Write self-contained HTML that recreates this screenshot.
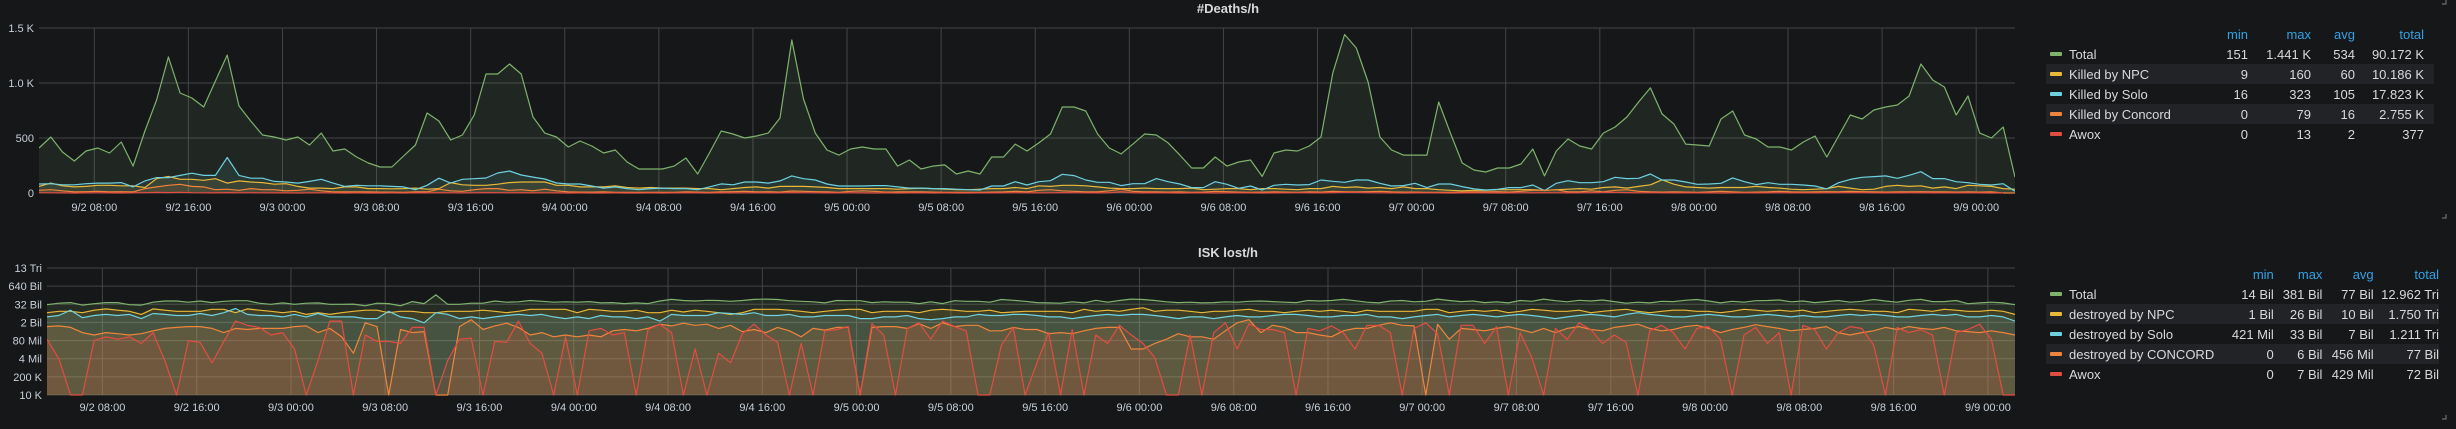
<!DOCTYPE html>
<html><head><meta charset="utf-8">
<style>
html,body{margin:0;padding:0;background:#161719;}
body{width:2456px;height:429px;overflow:hidden;position:relative;font-family:"Liberation Sans",sans-serif;}
svg{position:absolute;left:0;top:0;}
.lg{position:absolute;font-size:13px;color:#d8d9da;}
.lg table{border-collapse:collapse;}
.lg td,.lg th{padding:0;height:20px;white-space:nowrap;}
.lg th{color:#33a2e5;font-weight:normal;text-align:right;height:19px;}
.lg td.n{text-align:right;}
.lg tr.alt td{background:#222326;}
.sw{display:inline-block;width:12px;height:4px;border-radius:1px;vertical-align:middle;margin:0 7px 2px 4px;}
</style></head>
<body>
<svg id="chart" width="2456" height="429"></svg>

<div class="lg" style="left:2046px;top:25px;">
<table style="width:388px">
<tr><th style="text-align:left"></th><th style="width:60px">min</th><th style="width:63px">max</th><th style="width:44px">avg</th><th style="width:69px">total</th><th style="width:10px"></th></tr>
<tr><td><span class="sw" style="background:#7eb26d"></span>Total</td><td class="n">151</td><td class="n">1.441 K</td><td class="n">534</td><td class="n">90.172 K</td><td></td></tr>
<tr class="alt"><td><span class="sw" style="background:#eab839"></span>Killed by NPC</td><td class="n">9</td><td class="n">160</td><td class="n">60</td><td class="n">10.186 K</td><td></td></tr>
<tr><td><span class="sw" style="background:#6ed0e0"></span>Killed by Solo</td><td class="n">16</td><td class="n">323</td><td class="n">105</td><td class="n">17.823 K</td><td></td></tr>
<tr class="alt"><td><span class="sw" style="background:#ef843c"></span>Killed by Concord</td><td class="n">0</td><td class="n">79</td><td class="n">16</td><td class="n">2.755 K</td><td></td></tr>
<tr><td><span class="sw" style="background:#e24d42"></span>Awox</td><td class="n">0</td><td class="n">13</td><td class="n">2</td><td class="n">377</td><td></td></tr>
</table></div>

<div class="lg" style="left:2046px;top:265px;">
<table style="width:393px">
<tr><th style="text-align:left"></th><th style="width:80px">min</th><th style="width:59px">max</th><th style="width:62px">avg</th><th style="width:74px">total</th></tr>
<tr><td><span class="sw" style="background:#7eb26d"></span>Total</td><td class="n">14 Bil</td><td class="n">381 Bil</td><td class="n">77 Bil</td><td class="n">12.962 Tri</td></tr>
<tr class="alt"><td><span class="sw" style="background:#eab839"></span>destroyed by NPC</td><td class="n">1 Bil</td><td class="n">26 Bil</td><td class="n">10 Bil</td><td class="n">1.750 Tri</td></tr>
<tr><td><span class="sw" style="background:#6ed0e0"></span>destroyed by Solo</td><td class="n">421 Mil</td><td class="n">33 Bil</td><td class="n">7 Bil</td><td class="n">1.211 Tri</td></tr>
<tr class="alt"><td><span class="sw" style="background:#ef843c"></span>destroyed by CONCORD</td><td class="n">0</td><td class="n">6 Bil</td><td class="n">456 Mil</td><td class="n">77 Bil</td></tr>
<tr><td><span class="sw" style="background:#e24d42"></span>Awox</td><td class="n">0</td><td class="n">7 Bil</td><td class="n">429 Mil</td><td class="n">72 Bil</td></tr>
</table></div>

<script>
const xTickLabels = ["9/2 08:00","9/2 16:00","9/3 00:00","9/3 08:00","9/3 16:00","9/4 00:00","9/4 08:00","9/4 16:00","9/5 00:00","9/5 08:00","9/5 16:00","9/6 00:00","9/6 08:00","9/6 16:00","9/7 00:00","9/7 08:00","9/7 16:00","9/8 00:00","9/8 08:00","9/8 16:00","9/9 00:00"];
const firstTickHourIndex = 4.7;
const tickEveryHours = 8;

const deathsYTicks = [0,500,1000,1500];
const deathsYTickLabels = ["0","500","1.0 K","1.5 K"];
const deathsTotal = [409,509,373,291,382,409,364,464,245,564,845,1236,909,864,782,1018,1254,791,655,527,509,482,509,436,545,382,400,327,273,236,236,336,436,727,655,482,527,709,1082,1082,1173,1082,691,545,509,418,473,427,364,391,282,218,218,218,245,318,173,364,564,536,500,518,545,682,1391,855,545,391,345,400,418,400,400,245,300,218,245,255,173,200,173,327,327,445,382,455,536,782,782,745,536,409,355,445,536,527,455,345,227,227,327,245,282,300,151,364,391,382,427,509,1091,1441,1318,1009,509,391,345,345,345,827,545,273,209,191,227,227,264,400,155,382,491,427,400,545,600,691,827,955,718,627,445,436,427,673,745,527,491,418,418,391,464,518,327,518,709,673,755,782,800,882,1173,1027,964,709,882,545,500,600,145];
const deathsNpc = [60,90,65,55,60,70,70,65,65,50,130,150,125,125,115,130,90,110,100,95,80,85,60,45,45,40,55,55,40,40,38,40,45,35,40,95,75,70,70,80,95,100,100,100,70,70,55,55,55,65,50,45,50,45,45,45,40,40,30,40,50,55,45,60,60,60,55,50,40,40,40,40,40,35,40,45,40,35,30,30,35,40,40,50,40,65,60,70,70,65,55,45,40,40,45,40,40,40,45,30,35,40,40,30,40,40,35,30,40,40,60,50,55,45,50,40,55,40,40,30,25,20,25,25,30,30,30,30,25,30,35,40,35,50,55,45,60,75,120,80,55,50,45,50,50,50,60,50,45,35,30,35,40,60,45,30,35,60,70,60,65,45,55,40,70,65,60,40,35,35,40,9];
const deathsSolo = [82,85,75,75,85,90,90,95,55,110,140,140,160,180,160,160,323,160,135,135,105,100,90,105,125,90,60,70,65,65,60,55,30,70,135,90,125,130,136,182,200,164,145,127,91,82,82,64,45,55,40,30,40,45,40,40,30,55,83,75,100,100,90,110,155,130,118,82,64,64,64,67,67,55,45,45,40,40,35,30,27,64,64,103,73,103,112,170,158,118,97,97,67,85,85,131,103,82,49,49,103,79,43,64,27,70,79,73,76,118,106,97,118,118,88,64,67,88,49,82,82,58,37,27,33,49,49,73,22,88,112,94,94,103,143,131,134,173,118,118,100,79,82,88,137,103,76,94,79,79,73,64,37,94,124,143,149,155,134,161,194,131,131,103,94,79,73,85,16];
const deathsConcord = [25,30,20,10,12,15,10,12,10,40,55,70,79,60,55,30,35,25,40,30,30,20,25,35,20,10,10,10,10,8,8,6,10,10,35,20,15,30,40,40,25,30,20,35,20,10,8,8,10,5,5,5,5,5,5,10,8,6,10,12,15,10,12,8,18,15,12,10,5,15,20,15,8,10,10,10,8,5,5,5,5,8,10,15,10,25,30,20,15,10,10,20,35,15,10,10,8,10,6,8,15,12,8,5,8,10,8,6,10,8,15,12,10,12,15,10,8,8,5,5,5,8,10,10,12,8,15,25,25,30,10,10,20,10,25,30,15,10,8,10,8,6,10,15,10,5,8,10,15,10,8,10,12,10,15,12,10,8,10,10,12,10,10,8,10,8,10,0,0];
const deathsAwox = [3,2,1,0,1,2,1,0,2,3,5,4,6,3,2,1,4,2,3,2,1,2,0,1,2,1,0,1,0,0,1,0,2,1,3,2,1,2,4,3,2,3,1,2,1,0,1,0,0,1,0,0,1,0,1,2,1,0,2,1,2,3,1,2,4,3,2,1,1,2,1,0,1,0,1,2,0,1,0,0,1,1,2,3,2,1,2,4,3,2,1,2,13,2,1,2,1,0,1,2,0,1,2,1,0,1,2,3,2,1,4,6,5,3,2,1,0,1,2,1,0,1,2,1,0,1,2,1,3,2,1,2,3,5,6,4,2,3,2,1,2,1,2,0,1,2,1,2,3,1,2,1,2,3,4,3,2,1,2,3,2,1,2,1,2,1,0,1];

const iskYTicks = [1e4,2e5,4e6,8e7,1.6e9,3.2e10,6.4e11,1.28e13];
const iskYTickLabels = ["10 K","200 K","4 Mil","80 Mil","2 Bil","32 Bil","640 Bil","13 Tri"];
// values in Bil
const iskTotal = [30,38,42,28,35,42,42,30,28,45,55,55,45,55,42,52,58,58,38,32,40,32,38,40,32,32,33,25,38,36,25,50,36,150,32,32,38,38,55,45,48,60,52,45,48,45,50,40,42,36,40,36,55,72,60,55,62,60,52,60,72,75,70,58,52,48,40,60,58,58,42,48,45,45,36,48,36,58,52,52,45,70,62,52,42,40,38,48,40,62,45,60,75,70,60,48,42,45,40,42,48,45,52,55,50,45,42,60,55,60,72,58,45,40,55,60,48,52,75,60,50,55,42,48,40,60,52,75,58,48,62,55,65,50,38,45,40,52,50,62,70,55,40,52,45,58,60,65,48,55,42,50,60,45,52,70,55,45,62,72,50,50,60,35,40,45,40,30];
const iskNpc = [8,10,10,8,12,15,12,10,6,15,12,10,10,10,14,14,8,15,12,10,8,10,6,8,6,8,10,12,12,8,10,10,8,8,10,10,10,12,10,8,10,14,14,14,14,8,14,12,10,10,12,8,8,12,9,12,10,8,6,8,14,14,14,12,10,8,10,12,14,14,8,10,10,10,8,12,14,12,10,10,12,8,9,10,10,10,10,8,14,10,12,10,14,18,10,12,12,10,8,10,10,12,14,10,10,8,10,12,10,12,10,8,12,10,10,10,10,14,14,8,10,12,10,12,8,10,14,12,10,10,12,8,10,12,14,10,8,10,12,12,10,10,8,10,14,12,10,12,10,12,8,10,12,14,12,10,10,8,14,12,10,14,12,10,10,12,10,6];
const iskSolo = [4,5,12,3.5,5,6,5,6,3,7,6,5,5,7,5,8,16,6,5,5,4,6,4,7,4,4,4,3,3,10,4,3,1.5,8,6,3,4,3,4,5,6,5,6,4,3,4,3,5,4,4,3,4,2,6,5,5,5,8,7,6,8,5,5,6,4,4,5,5,5,3,3,4,4,5,3,2.5,3,4,4,6,5,5,6,6,5,4,4,3,4,5,6,5,6,6,5,4,3,4,4,3,4,5,4,4,5,6,6,5,4,4,5,5,6,4,4,3,4,5,6,4,5,6,5,4,5,6,5,4,3,4,5,6,5,4,6,8,6,5,4,4,5,6,5,4,4,5,6,5,4,5,4,4,5,6,5,6,5,4,4,5,6,5,6,4,4,5,4,2];
const iskConcord = [0.8,0.9,0.7,0.3,0.2,0.3,0.25,0.2,0.25,0.4,0.6,0.7,0.8,0.8,0.6,0.3,0.6,0.5,0.6,0.6,0.6,0.8,0.9,0.3,0.6,0.15,0.01,1.5,0.8,0,0.5,0.3,0.35,0,0,0.8,2.5,0.5,0.9,1.4,0.7,0.2,0.3,0.15,0.2,0.15,0.2,0.15,0.4,0.5,0.4,0.6,1.2,0.9,1.4,1,1.2,0.6,1,0.35,0.5,0.3,0.7,0.4,0.15,0.6,0.45,0.7,0.7,0,0.7,0.8,0.8,0.6,1.3,0.6,1.5,0.8,1,1,0.4,0.4,0.7,0.5,0.5,0.25,0.3,0.25,0.4,0.6,0.7,0.7,0.02,0.02,0.05,0.1,0.25,0.15,0.15,0.1,0.4,1.5,2.5,0.3,1,0.7,0.3,0.3,0.2,0.15,0.4,0.6,0.6,1,1.5,1,0.9,0,1.2,0.1,0.6,0.5,0.4,0.6,0.8,0.5,0.3,0.6,0.3,0.6,0.8,0.5,0.4,0.7,0.9,1.2,0.6,0.4,0.5,0.8,1,0.6,0.3,0.5,0.7,1.1,0.8,0.6,0.4,0.5,0.6,0.8,0.3,0.2,0.3,0.4,0.7,0.5,0.8,0.6,0.5,0.7,0.4,0.35,0.3,0.4,0.3,0.2];
const iskAwox = [0.1,0.004,0,0,0.08,0.15,0.1,0.15,0.05,0.3,0.003,0,0.08,0.06,0.002,0.07,2,1,0.7,0.2,0.3,0.02,0,0.003,2,2,0,0.2,0.07,0.07,0.05,0.7,0.7,0,0.003,0.1,0.12,0,0.07,0.06,2,0.05,0.01,0,0.15,0,0.4,0.6,0.2,0.3,0,0.5,1.2,0.3,0,0.02,0,0.01,0.002,0.25,1.2,0.2,0.06,0,0.05,0,0.4,0.5,0.8,0,1.3,0.2,0,0.6,1.5,0.1,2,0.8,0.4,0,0,0.04,0.7,0,0.002,0.3,0,0.5,0,0.2,0.05,1,0.2,0.05,0.005,0,0,0.2,0,0.3,1.5,0.02,1.3,0.5,0.5,0.3,0,0.6,0.4,0.9,0.3,0.02,1,1,0.3,0,0.6,1.5,0.25,0,1,1,0.05,0.8,0,0.3,0.005,0,0.6,0.1,1.5,0.5,0.05,0.2,0.06,0,0.4,1,0.3,0.02,0.6,0.8,0.1,0,0.2,0.7,0.05,0.3,0,1,0.5,0.02,0.3,0.8,0.6,0.04,0,0.7,0.3,0.5,0.2,0,0.3,0.5,1.2,0.1,0,0];

const NS = "http://www.w3.org/2000/svg";
const svg = document.getElementById('chart');
function mk(tag, attrs, parent){const e=document.createElementNS(NS,tag);for(const k in attrs)e.setAttribute(k,attrs[k]);(parent||svg).appendChild(e);return e;}

const colors = {total:"#7eb26d",npc:"#eab839",solo:"#6ed0e0",concord:"#ef843c",awox:"#e24d42"};
const defs = mk('defs',{});

function drawPanel(cfg){
  const g = mk('g',{});
  
  
  const cp = mk('clipPath',{id:cfg.name+'-clip'},defs);
  mk('rect',{x:cfg.x0,y:cfg.yTop-2,width:cfg.x1-cfg.x0,height:cfg.yBot-cfg.yTop+3},cp);
  const t = mk('text',{x:1228,y:cfg.titleY,'text-anchor':'middle','font-size':'13','font-weight':'bold',fill:'#d8d9da','font-family':'Liberation Sans, sans-serif'},g);
  t.textContent = cfg.title;
  
  
  const N = cfg.series[0].data.length;
  const xs = i => cfg.x0 + (cfg.x1 - cfg.x0) * i / (N - 1);
  cfg.yTicks.forEach((v,k)=>{
    const y = cfg.ys(v);
    const ln = mk('line',{x1:cfg.x0,x2:cfg.x1,y1:y,y2:y,stroke:'#434446','stroke-width':1},g);
    
    
    const tx = mk('text',{x:cfg.x0-5,y:y+4,'text-anchor':'end','font-size':'11',fill:'#c7d0d9','font-family':'Liberation Sans, sans-serif'},g);
    tx.textContent = cfg.yLabels[k];
    
    
  });
  xTickLabels.forEach((lab,k)=>{
    const x = xs(firstTickHourIndex + k*tickEveryHours);
    const ln = mk('line',{x1:x,x2:x,y1:cfg.yTop,y2:cfg.yBot,stroke:'#434446','stroke-width':1},g);
    
    
    const tx = mk('text',{x:x,y:cfg.xLabelY,'text-anchor':'middle','font-size':'11',fill:'#c7d0d9','font-family':'Liberation Sans, sans-serif'},g);
    tx.textContent = lab;
    
    
  });
  const sg = mk('g',{'clip-path':'url(#'+cfg.name+'-clip)'},g);
  
  
  cfg.series.forEach(s=>{
    const n = Math.min(s.data.length, N);
    let d = '';
    for(let i=0;i<n;i++){ d += (i?'L':'M') + xs(i).toFixed(1) + ',' + cfg.ys(cfg.conv(s.data[i])).toFixed(1); }
    const area = mk('path',{d: d + 'L'+xs(n-1).toFixed(1)+','+cfg.yBot+'L'+xs(0).toFixed(1)+','+cfg.yBot+'Z', fill:s.color,'fill-opacity':cfg.fillOp,stroke:'none'},sg);
    
    
    s.d = d;
  });
  cfg.series.forEach(s=>{
    const line = mk('path',{d:s.d,fill:'none',stroke:s.color,'stroke-width':1.2,'stroke-linejoin':'round'},sg);
    
    
  });
}

drawPanel({
  name:'deaths-panel', title:'#Deaths/h', titleY:13,
  x0:39, x1:2015, yTop:28, yBot:193, xLabelY:211,
  ys: v => 193 - (v/1500)*165,
  conv: v => v,
  yTicks: deathsYTicks, yLabels: deathsYTickLabels, fillOp:0.1,
  series:[
    {key:'total',color:colors.total,data:deathsTotal},
    {key:'npc',color:colors.npc,data:deathsNpc},
    {key:'solo',color:colors.solo,data:deathsSolo},
    {key:'concord',color:colors.concord,data:deathsConcord},
    {key:'awox',color:colors.awox,data:deathsAwox}
  ]
});

const step = (395-268)/7;
drawPanel({
  name:'isk-panel', title:'ISK lost/h', titleY:257,
  x0:47, x1:2015, yTop:268, yBot:395, xLabelY:411,
  ys: v => { const vv = Math.max(v,1e4); return 395 - Math.log(vv/1e4)/Math.log(20)*step; },
  conv: v => v*1e9,
  yTicks: iskYTicks, yLabels: iskYTickLabels, fillOp:0.14,
  series:[
    {key:'total',color:colors.total,data:iskTotal},
    {key:'npc',color:colors.npc,data:iskNpc},
    {key:'solo',color:colors.solo,data:iskSolo},
    {key:'concord',color:colors.concord,data:iskConcord},
    {key:'awox',color:colors.awox,data:iskAwox}
  ]
});

[[2446,218],[2446,419],[2446,4]].forEach(p=>{
  const c = mk('path',{d:`M${p[0]},${p[1]-4}L${p[0]},${p[1]}L${p[0]-4},${p[1]}`,stroke:'#6e6e6e','stroke-width':1.2,fill:'none'});
  
  
});
</script>
</body></html>
